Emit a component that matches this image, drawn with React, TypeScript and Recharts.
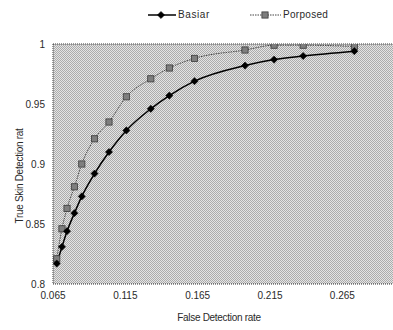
import React from 'react';
import { LineChart, Line, XAxis, YAxis, CartesianGrid, Legend, ReferenceLine, Label } from 'recharts';

const FONT = '"Liberation Sans", Arial, sans-serif';
const TEXT = '#2a2a2a';

// Shared false-detection-rate values (x) for both series
const falseRate = [0.0676, 0.0712, 0.0747, 0.0798, 0.0849, 0.0937, 0.1037, 0.1157, 0.1326, 0.1454, 0.1628, 0.1977, 0.2178, 0.2379, 0.2733];
const basiar = [0.817, 0.831, 0.844, 0.859, 0.873, 0.892, 0.910, 0.928, 0.946, 0.957, 0.969, 0.982, 0.987, 0.990, 0.994];
const proposed = [0.821, 0.846, 0.863, 0.881, 0.900, 0.921, 0.935, 0.956, 0.971, 0.980, 0.988, 0.995, 0.999, 0.999, 0.998];

const xTicks = [0.065, 0.115, 0.165, 0.215, 0.265];
const yTicks = [0.8, 0.85, 0.9, 0.95, 1];

const data = falseRate.map((x, i) => ({ x, basiar: basiar[i], proposed: proposed[i] }));

const DiamondDot = (p: any) => {
  const { cx, cy } = p;
  if (cx == null || cy == null) return null;
  const r = 3.6;
  return (
    <path
      d={`M${cx},${cy - r}L${cx + r},${cy}L${cx},${cy + r}L${cx - r},${cy}Z`}
      fill="#000"
      stroke="#000"
      strokeWidth={0.5}
    />
  );
};

const SquareDot = (p: any) => {
  const { cx, cy } = p;
  if (cx == null || cy == null) return null;
  const s = 3.1;
  return <rect x={cx - s} y={cy - s} width={2 * s} height={2 * s} fill="#7e7e7e" stroke="#3a3a3a" strokeWidth={0.8} />;
};

const LegendContent = () => (
  <div style={{ display: 'flex', alignItems: 'center', fontFamily: FONT, fontSize: 10, color: TEXT, whiteSpace: 'nowrap', lineHeight: '12px' }}>
    <svg width={28} height={10} style={{ display: 'block' }}>
      <line x1={0} y1={5} x2={28} y2={5} stroke="#000" strokeWidth={1.5} />
      <DiamondDot cx={13} cy={5} />
    </svg>
    <span style={{ marginLeft: 2, letterSpacing: 0.6 }}>Basiar</span>
    <svg width={31} height={10} style={{ display: 'block', marginLeft: 40 }}>
      <line x1={0} y1={5} x2={31} y2={5} stroke="#444" strokeWidth={1} strokeDasharray="1.5 1" />
      <SquareDot cx={15} cy={5} />
    </svg>
    <span style={{ marginLeft: 2, letterSpacing: 0.3 }}>Porposed</span>
  </div>
);

const YTitle = (props: any) => {
  const vb = props.viewBox || { x: 0, y: 44, width: 53, height: 240 };
  const cx = vb.x + 19;
  const cy = vb.y + vb.height / 2 + 12;
  return (
    <text
      x={cx}
      y={cy}
      transform={`rotate(-90, ${cx}, ${cy})`}
      textAnchor="middle"
      dominantBaseline="central"
      fontFamily={FONT}
      fontSize={10}
      fill={TEXT}
      letterSpacing={-0.3}
    >
      True Skin Detection rat
    </text>
  );
};

export default function App() {
  return (
    <div style={{ position: 'absolute', left: 0, top: 0, width: 393, height: 330, background: '#fff' }}>
      <LineChart width={393} height={330} data={data} margin={{ top: 44, right: 0, bottom: 0, left: 0 }}>
        <defs>
          <pattern id="dither" width={2} height={2} patternUnits="userSpaceOnUse">
            <rect x={0} y={0} width={2} height={2} fill="#e4e4e4" />
            <rect x={0} y={0} width={1} height={1} fill="#acacac" />
            <rect x={1} y={1} width={1} height={1} fill="#acacac" />
          </pattern>
        </defs>
        <CartesianGrid fill="url(#dither)" horizontal={false} vertical={false} stroke="none" />
        <XAxis
          type="number"
          dataKey="x"
          domain={[0.065, 0.3]}
          ticks={xTicks}
          interval={0}
          allowDataOverflow
          height={46}
          tickLine={false}
          axisLine={{ stroke: '#333', strokeDasharray: '1 1' }}
          tick={{ fill: TEXT, fontSize: 10, fontFamily: FONT }}
        >
          <Label
            value="False Detection rate"
            position="insideBottom"
            offset={9}
            dx={-4}
            style={{ fontFamily: FONT, fontSize: 10, fill: TEXT, letterSpacing: -0.3 }}
          />
        </XAxis>
        <YAxis
          type="number"
          domain={[0.8, 1]}
          ticks={yTicks}
          interval={0}
          allowDataOverflow
          width={53}
          tickLine={false}
          axisLine={{ stroke: '#333', strokeDasharray: '1 1' }}
          tick={{ fill: TEXT, fontSize: 10, fontFamily: FONT }}
          label={<YTitle />}
        />
        <ReferenceLine y={1} stroke="#333" strokeDasharray="1 1" />
        <Legend
          layout="horizontal"
          verticalAlign="middle"
          align="center"
          content={<LegendContent />}
          wrapperStyle={{ top: 9, left: 148, width: 'auto' }}
        />
        <Line
          type="monotone"
          dataKey="proposed"
          name="Porposed"
          stroke="#444"
          strokeWidth={1}
          strokeDasharray="1.5 1"
          dot={<SquareDot />}
          activeDot={false}
          isAnimationActive={false}
        />
        <Line
          type="monotone"
          dataKey="basiar"
          name="Basiar"
          stroke="#000"
          strokeWidth={1.5}
          dot={<DiamondDot />}
          activeDot={false}
          isAnimationActive={false}
        />
      </LineChart>
    </div>
  );
}
